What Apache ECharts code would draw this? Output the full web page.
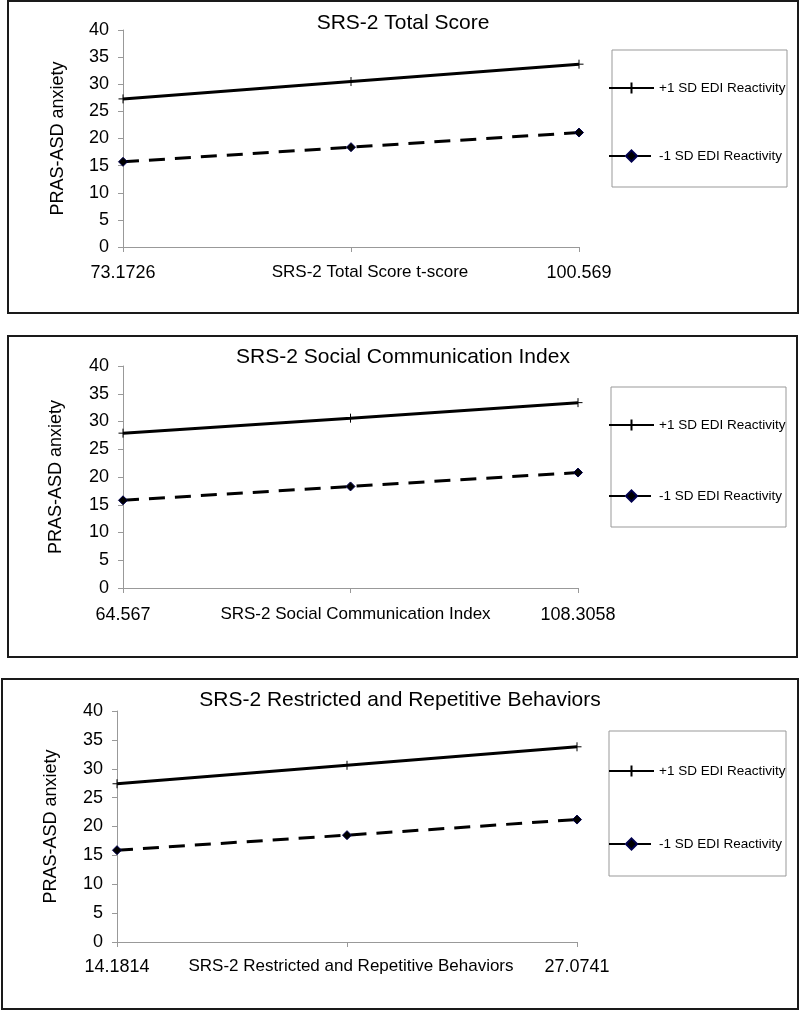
<!DOCTYPE html>
<html><head><meta charset="utf-8">
<script src="https://cdn.jsdelivr.net/npm/echarts@6/dist/echarts.min.js"></script>
<style>html,body{margin:0;padding:0;background:#fff}#c{width:800px;height:1012px}</style>
</head><body><div id="c"></div>
<script>
// ---- data ----
const seriesNames = ['+1 SD EDI Reactivity', '-1 SD EDI Reactivity'];
const panelTitles = ['SRS-2 Total Score', 'SRS-2 Social Communication Index', 'SRS-2 Restricted and Repetitive Behaviors'];
const xAxisTitles = ['SRS-2 Total Score t-score', 'SRS-2 Social Communication Index', 'SRS-2 Restricted and Repetitive Behaviors'];
const yAxisTitle = 'PRAS-ASD anxiety';
const xTickLabels1 = ['73.1726', '', '100.569'];
const xTickLabels2 = ['64.567', '', '108.3058'];
const xTickLabels3 = ['14.1814', '', '27.0741'];
const plusSD1 = [27.3, 30.5, 33.7];
const minusSD1 = [15.7, 18.4, 21.1];
const plusSD2 = [27.9, 30.6, 33.4];
const minusSD2 = [15.8, 18.3, 20.8];
const plusSD3 = [27.4, 30.6, 33.8];
const minusSD3 = [15.9, 18.5, 21.2];
const yMin = 0, yMax = 40, yStep = 5;

// ---- layout ----
const FONT = 'Liberation Sans, Arial, sans-serif';
const panels = [
  {x: xTickLabels1, p: plusSD1, m: minusSD1, frame: [8, 1, 790, 312], grid: {left: 123, top: 30, width: 456, height: 217},
   titleX: 403, titleTop: 13, box: [612, 50, 175, 137], legTop: 81, legGap: 54, yGap: 56, xShift: 19, labMargin: 17},
  {x: xTickLabels2, p: plusSD2, m: minusSD2, frame: [8, 336, 789, 321], grid: {left: 123, top: 366, width: 455, height: 222},
   titleX: 403, titleTop: 347, box: [611, 387, 175, 140], legTop: 418, legGap: 57, yGap: 58, xShift: 5, labMargin: 18},
  {x: xTickLabels3, p: plusSD3, m: minusSD3, frame: [2, 679, 796, 330], grid: {left: 117, top: 711, width: 460, height: 231},
   titleX: 400, titleTop: 690, box: [609, 731, 177, 145], legTop: 764, legGap: 59, yGap: 57, xShift: 4, labMargin: 16}
];

const plusSymbol = 'path://M5,0L5,10M0,5L10,5';
const option = {
  animation: false,
  backgroundColor: '#fff',
  title: [], legend: [], grid: [], xAxis: [], yAxis: [], series: [], graphic: []
};

panels.forEach((pn, i) => {
  option.graphic.push({type: 'rect', shape: {x: pn.frame[0], y: pn.frame[1], width: pn.frame[2], height: pn.frame[3]},
    style: {fill: 'none', stroke: '#1a1a1a', lineWidth: 2}, silent: true, z: -1});
  option.graphic.push({type: 'rect', shape: {x: pn.box[0], y: pn.box[1], width: pn.box[2], height: pn.box[3]},
    style: {fill: 'none', stroke: '#999', lineWidth: 1}, silent: true, z: -1});
  option.title.push({text: panelTitles[i], left: pn.titleX, top: pn.titleTop, textAlign: 'center', padding: 0,
    textStyle: {fontFamily: FONT, fontSize: 21, fontWeight: 'normal', color: '#000'}});
  option.legend.push({orient: 'vertical', left: 608, top: pn.legTop, padding: 0, itemGap: pn.legGap,
    itemWidth: 45, itemHeight: 14, data: seriesNames, selectedMode: false,
    textStyle: {fontFamily: FONT, fontSize: 13.5, color: '#000'}});
  option.grid.push(Object.assign({containLabel: false}, pn.grid));
  option.xAxis.push({type: 'category', gridIndex: i, data: pn.x, boundaryGap: false,
    name: xAxisTitles[i], nameLocation: 'middle', nameGap: pn.labMargin, nameMoveOverlap: false,
    nameTextStyle: {fontFamily: FONT, fontSize: 17, color: '#000', padding: [0, 0, 0, pn.xShift * 2], verticalAlign: 'top'},
    axisLine: {show: true, lineStyle: {color: '#999', width: 1}},
    axisTick: {show: true, length: 5, lineStyle: {color: '#999'}},
    axisLabel: {fontFamily: FONT, fontSize: 18, color: '#000', margin: pn.labMargin, interval: 0},
    splitLine: {show: false}});
  option.yAxis.push({type: 'value', gridIndex: i, min: yMin, max: yMax, interval: yStep,
    name: yAxisTitle, nameLocation: 'middle', nameGap: pn.yGap, nameRotate: 90, nameMoveOverlap: false,
    nameTextStyle: {fontFamily: FONT, fontSize: 18, color: '#000'},
    axisLine: {show: true, lineStyle: {color: '#999', width: 1}},
    axisTick: {show: true, length: 5, lineStyle: {color: '#999'}},
    axisLabel: {fontFamily: FONT, fontSize: 18, color: '#000', margin: 14},
    splitLine: {show: false}});
  option.series.push({name: seriesNames[0], type: 'line', xAxisIndex: i, yAxisIndex: i, data: pn.p,
    symbol: plusSymbol, symbolSize: 9, showSymbol: true,
    lineStyle: {color: '#000', width: 3, type: 'solid'},
    itemStyle: {color: '#000', borderColor: '#000', borderWidth: 1}});
  option.series.push({name: seriesNames[1], type: 'line', xAxisIndex: i, yAxisIndex: i, data: pn.m,
    symbol: 'diamond', symbolSize: 9, showSymbol: true,
    lineStyle: {color: '#000', width: 3, type: [16, 10]},
    itemStyle: {color: '#000', borderColor: '#00004d', borderWidth: 1}});
});

const chart = echarts.init(document.getElementById('c'), null, {renderer: 'canvas'});
chart.setOption(option);
</script>
</body></html>
